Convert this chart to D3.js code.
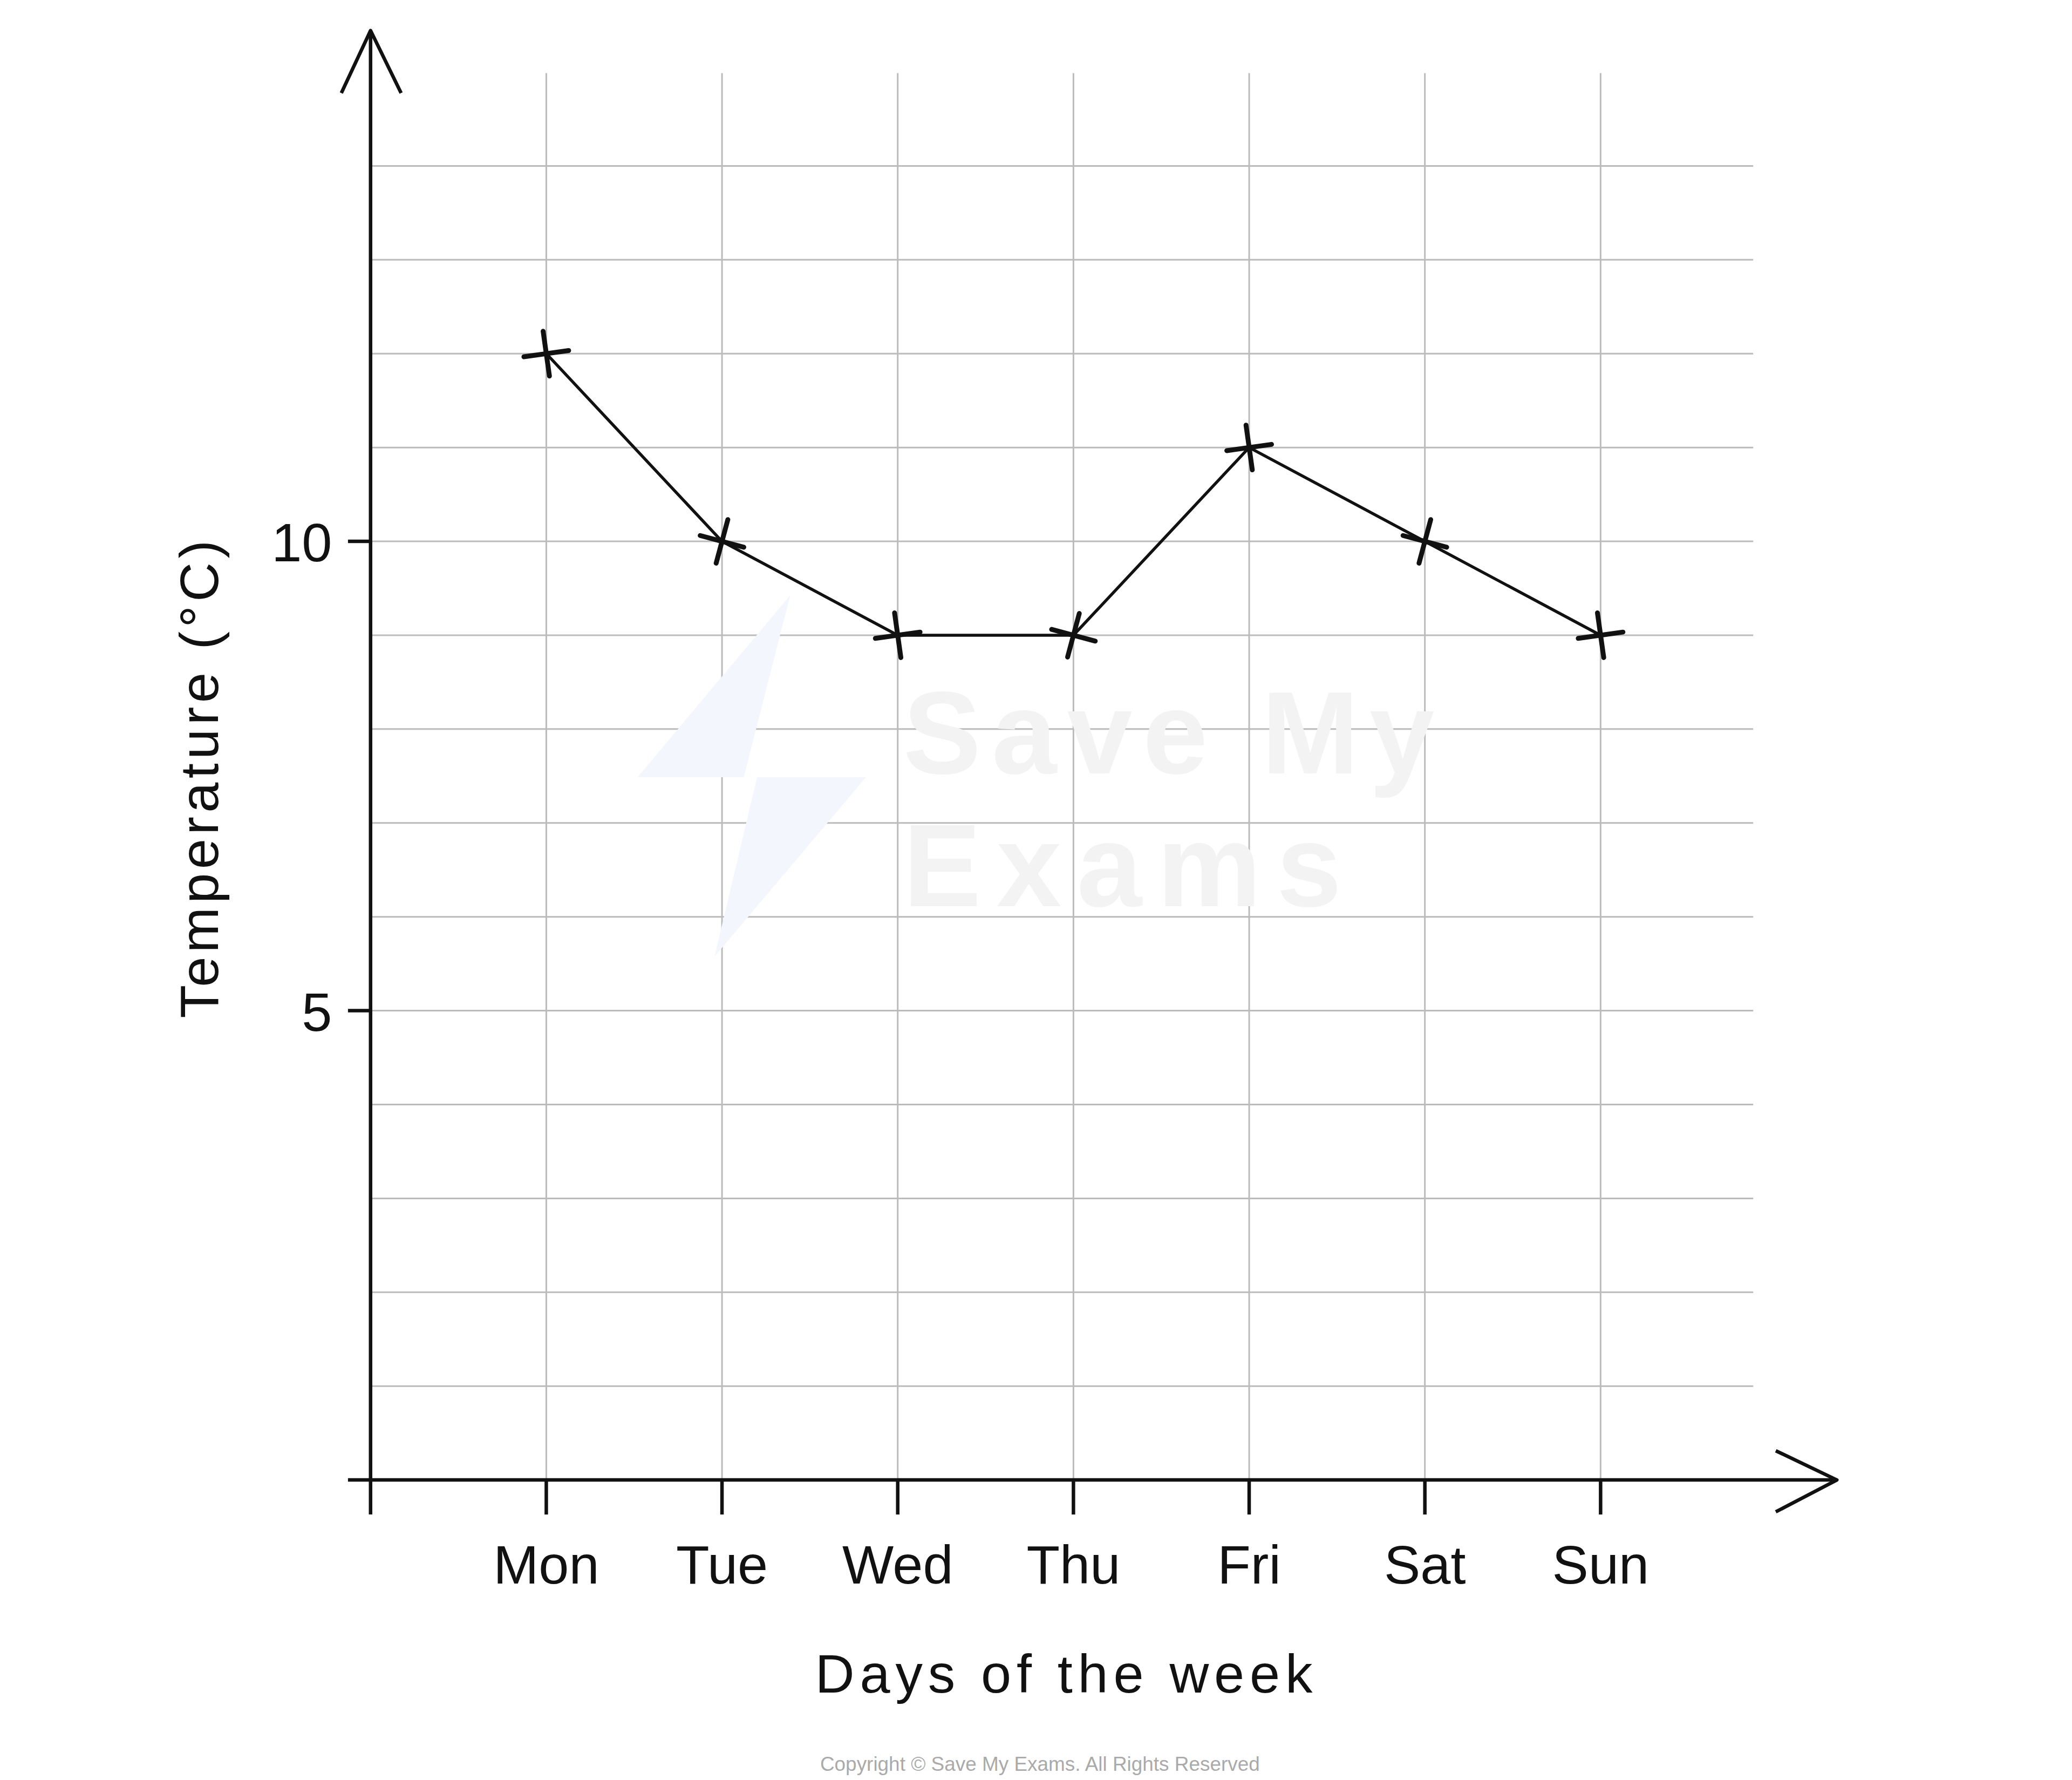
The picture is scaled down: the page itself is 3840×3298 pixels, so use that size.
<!DOCTYPE html><html><head><meta charset="utf-8"><script src="https://cdn.jsdelivr.net/npm/d3@7"></script>
<style>body{margin:0;background:#fff}</style></head><body><svg id="c" width="3840" height="3298"></svg>
<script>
const days=["Mon","Tue","Wed","Thu","Fri","Sat","Sun"];
const temps=[12,10,9,9,11,10,9];
const yTicks=[5,10];
const s=2.4615;
const svg=d3.select("#c");
const x=d3.scaleLinear().domain([0,1]).range([279*s,411.3*s]);
const y=d3.scaleLinear().domain([0,10]).range([1114*s,407.5*s]);
const F="Liberation Sans, DejaVu Sans, sans-serif";
for(let i=1;i<=14;i++) svg.append("line").attr("x1",x(0)).attr("x2",1320*s).attr("y1",y(i)).attr("y2",y(i)).attr("stroke","#bbb").attr("stroke-width",3);
days.forEach((d,i)=>svg.append("line").attr("x1",x(i+1)).attr("x2",x(i+1)).attr("y1",55*s).attr("y2",y(0)).attr("stroke","#bbb").attr("stroke-width",3));
svg.append("text").attr("x",680*s).attr("y",582*s).attr("font-family",F).attr("font-weight","bold").attr("font-size",88*s).attr("textLength",400*s).attr("fill","#f3f3f3").text("Save My");
svg.append("text").attr("x",680*s).attr("y",682*s).attr("font-family",F).attr("font-weight","bold").attr("font-size",88*s).attr("textLength",330*s).attr("fill","#f3f3f3").text("Exams");
svg.append("path").attr("d",`M${595*s},${448*s}L${480*s},${585*s}L${570*s},${585*s}L${538*s},${720*s}L${652*s},${585*s}L${560*s},${585*s}Z`).attr("fill","#f4f6fd");
const k="#111",w=6.5;
svg.append("line").attr("x1",262*s).attr("x2",1383*s).attr("y1",y(0)).attr("y2",y(0)).attr("stroke",k).attr("stroke-width",w);
svg.append("line").attr("x1",x(0)).attr("x2",x(0)).attr("y1",23*s).attr("y2",1140*s).attr("stroke",k).attr("stroke-width",w);
svg.append("path").attr("d",`M${257*s},${70*s}L${279*s},${23*s}L${302*s},${70*s}`).attr("fill","none").attr("stroke",k).attr("stroke-width",w).attr("stroke-linejoin","round");
svg.append("path").attr("d",`M${1337*s},${1092*s}L${1383*s},${1114*s}L${1337*s},${1138*s}`).attr("fill","none").attr("stroke",k).attr("stroke-width",w).attr("stroke-linejoin","round");
days.forEach((d,i)=>{
 svg.append("line").attr("x1",x(i+1)).attr("x2",x(i+1)).attr("y1",y(0)).attr("y2",1140*s).attr("stroke",k).attr("stroke-width",w);
 svg.append("text").attr("x",x(i+1)).attr("y",1192*s).attr("text-anchor","middle").attr("font-family",F).attr("font-size",41*s).attr("fill",k).text(d);
});
yTicks.forEach(t=>{
 svg.append("line").attr("x1",262*s).attr("x2",x(0)).attr("y1",y(t)).attr("y2",y(t)).attr("stroke",k).attr("stroke-width",w);
 svg.append("text").attr("x",250*s).attr("y",y(t)+15*s).attr("text-anchor","end").attr("font-family",F).attr("font-size",41*s).attr("fill",k).text(t);
});
svg.append("text").attr("x",803*s).attr("y",1274*s).attr("text-anchor","middle").attr("font-family",F).attr("font-size",41*s).attr("fill",k).attr("letter-spacing",4*s).text("Days of the week");
svg.append("text").attr("transform",`translate(${164*s},${585*s}) rotate(-90)`).attr("text-anchor","middle").attr("font-family",F).attr("font-size",41*s).attr("fill",k).attr("letter-spacing",3*s).text("Temperature (°C)");
svg.append("text").attr("x",783*s).attr("y",1333*s).attr("text-anchor","middle").attr("font-family",F).attr("font-size",15*s).attr("fill","#aaa").text("Copyright © Save My Exams. All Rights Reserved");
svg.append("path").datum(temps).attr("d",d3.line().x((d,i)=>x(i+1)).y(d=>y(d))).attr("fill","none").attr("stroke",k).attr("stroke-width",5.5);
temps.forEach((t,i)=>{
 const g=svg.append("g").attr("transform",`translate(${x(i+1)},${y(t)}) rotate(${i%2?15:-8})`);
 g.append("line").attr("x1",-17*s).attr("x2",17*s).attr("y1",0).attr("y2",0).attr("stroke",k).attr("stroke-width",9).attr("stroke-linecap","round");
 g.append("line").attr("x1",0).attr("x2",0).attr("y1",-17*s).attr("y2",17*s).attr("stroke",k).attr("stroke-width",9).attr("stroke-linecap","round");
});
</script></body></html>
